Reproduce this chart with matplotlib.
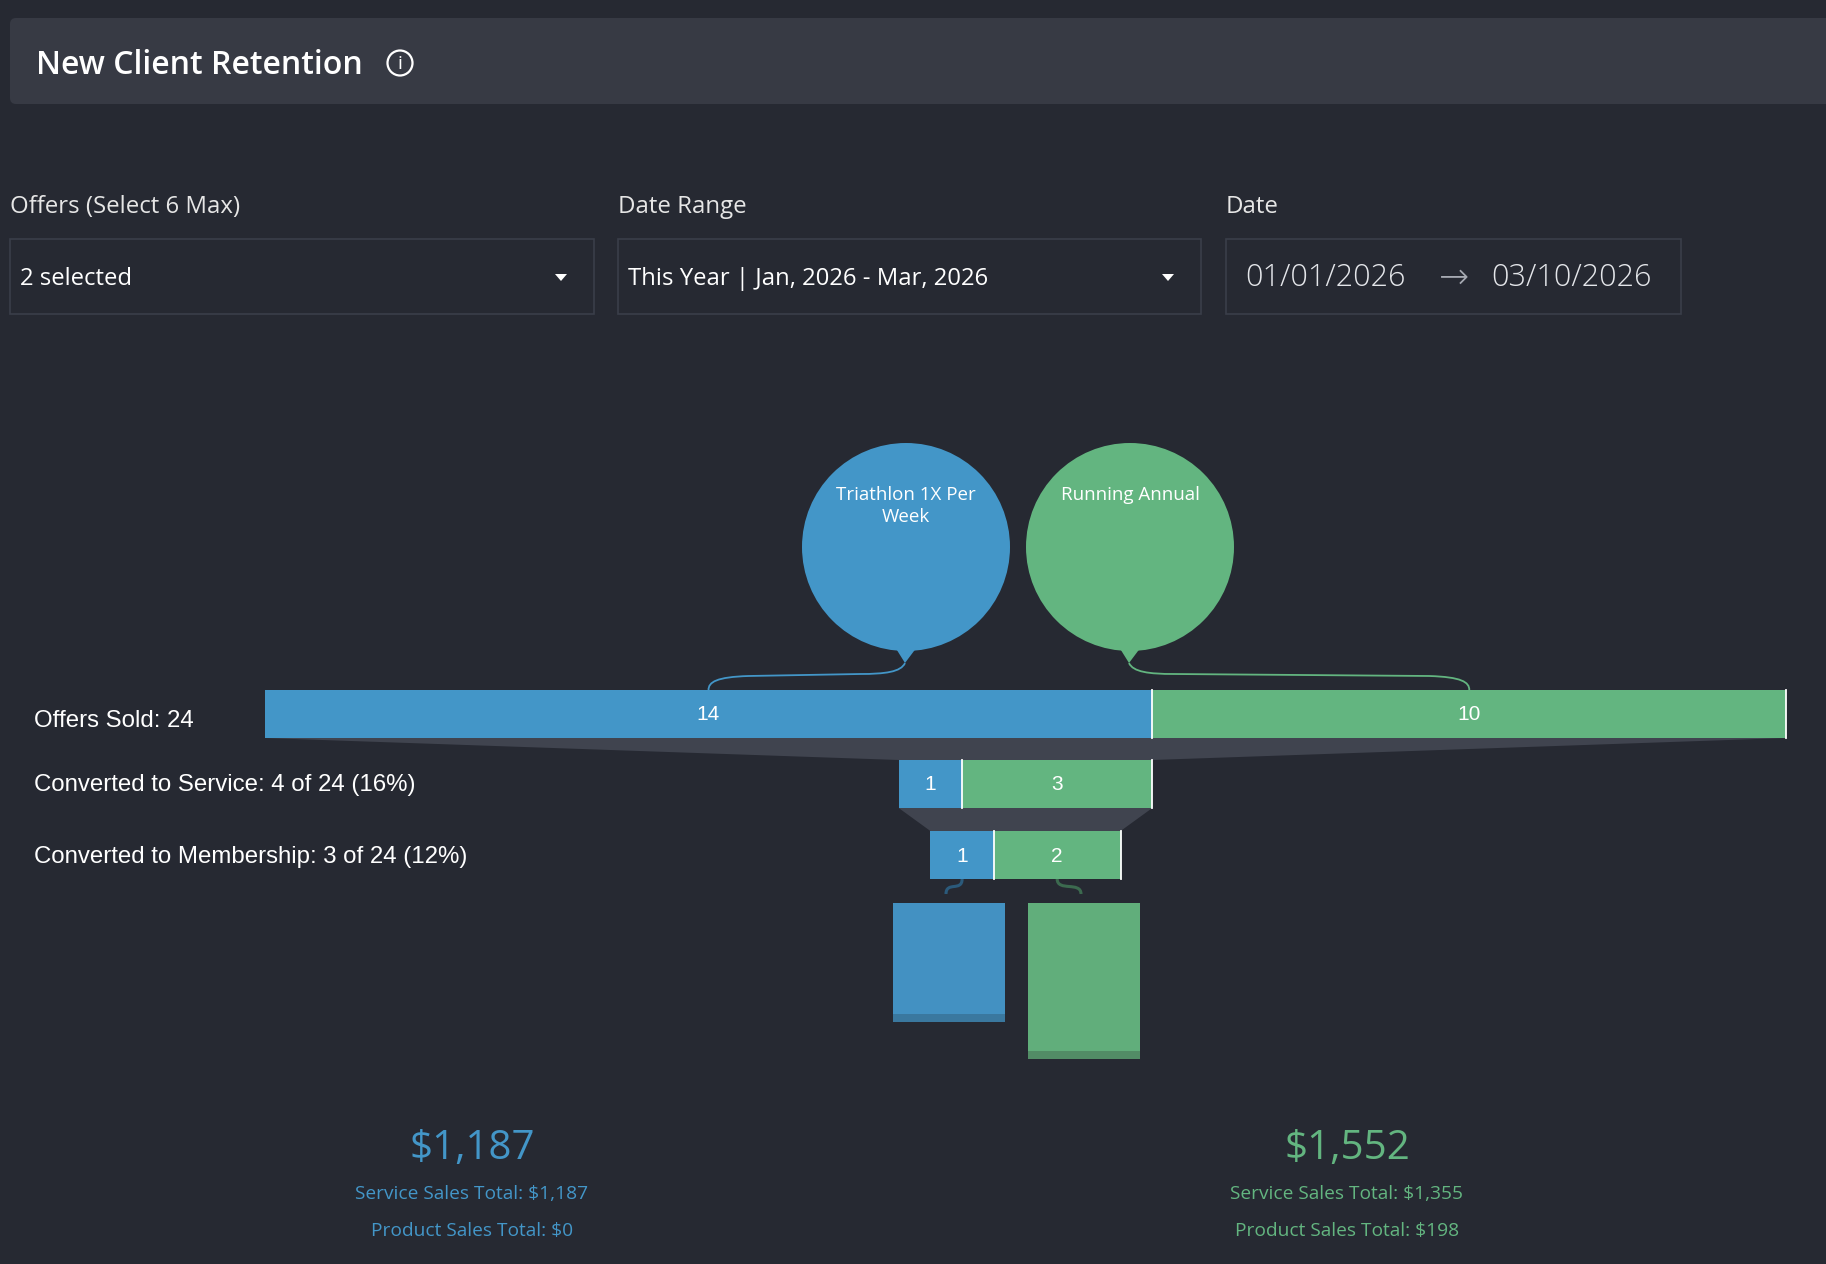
import numpy as np
import matplotlib
matplotlib.use('Agg')
import matplotlib.pyplot as plt
from matplotlib.patches import FancyBboxPatch, Rectangle, Circle, Polygon, PathPatch
from matplotlib.path import Path

# --- dati ---
offers = ["Triathlon 1X Per\nWeek", "Running Annual"]
offers_sold = [14, 10]
converted_service = [1, 3]
converted_membership = [1, 2]
sales_totals = [1187, 1552]
service_sales = [1187, 1355]
product_sales = [0, 198]
stage_names = ["Offers Sold", "Converted to Service", "Converted to Membership"]

filter_labels = ["Offers (Select 6 Max)", "Date Range", "Date"]
filter_values = ["2 selected", "This Year | Jan, 2026 - Mar, 2026"]
date_from = "01/01/2026"
date_to = "03/10/2026"

# colori
BG = '#262932'
PANEL = '#373a44'
BORDER = '#3a3e49'
FUNNEL = '#40444f'
colors = ['#4396c8', '#63b580']
box_colors = ['#4391c2', '#61ae7b']
band_colors = ['#3a789f', '#528c66']
link_colors = ['#2b5a7b', '#3c6a4f']

UI = ['Open Sans', 'DejaVu Sans']
ARIAL = ['Liberation Sans', 'DejaVu Sans']

fig = plt.figure(figsize=(18.26, 12.64), dpi=100)
fig.patch.set_facecolor(BG)
ax = fig.add_axes([0, 0, 1, 1])
ax.set_xlim(0, 1826)
ax.set_ylim(1264, 0)
ax.axis('off')
ax.set_facecolor(BG)

# header
ax.add_patch(FancyBboxPatch((10, 18), 1900, 86, boxstyle="round,pad=0,rounding_size=6",
                            fc=PANEL, ec='none'))
ax.text(36, 65, "New Client Retention", color='white', fontsize=23, fontweight='semibold',
        family=UI, va='center', ha='left')
ax.add_patch(Circle((400, 63), 12.5, fc='none', ec='white', lw=1.6))
ax.text(400, 64, "i", color='white', fontsize=14, family=UI, ha='center', va='center')

# filtri
box_x = [10, 618, 1226]
box_w = [584, 583, 455]
for i, lab in enumerate(filter_labels):
    ax.text(box_x[i], 207, lab, color='#e6e6e6', fontsize=17.3, family=UI, va='center')
    ax.add_patch(Rectangle((box_x[i], 239), box_w[i], 75, fc=BG, ec=BORDER, lw=1.2))
for i, val in enumerate(filter_values):
    ax.text(box_x[i] + 10, 279, val, color='white', fontsize=17.2, family=UI, va='center')
    ax_x = box_x[i] + box_w[i] - 33
    ax.add_patch(Polygon([[ax_x - 6, 274], [ax_x + 6, 274], [ax_x, 281]], fc='white', ec='none'))
ax.text(1245, 278, date_from, color='#e4e6ea', fontsize=22, fontweight='light', family=UI, va='center')
ax.text(1454, 278, "\u2192", color='#a6aab2', fontsize=26, fontweight='light', family=UI,
        va='center', ha='center')
ax.text(1491, 278, date_to, color='#e4e6ea', fontsize=22, fontweight='light', family=UI, va='center')

# funnel
cx = 1025.5
unit = 63.4
bar_h = 48
stage_y = [690, 760, 831]
label_y = [721, 785, 857]
stages = [offers_sold, converted_service, converted_membership]
edges = []
for s, vals in enumerate(stages):
    tot = sum(vals)
    left = cx - tot * unit / 2
    lefts = left + np.concatenate([[0], np.cumsum(vals)[:-1]]) * unit
    ax.barh([stage_y[s] + bar_h / 2] * len(vals), np.array(vals) * unit, left=lefts,
            height=bar_h, color=colors, edgecolor='none', zorder=3)
    for j, v in enumerate(vals):
        r = lefts[j] + v * unit
        ax.plot([r, r], [stage_y[s], stage_y[s] + bar_h], color='white', lw=1.3, zorder=4)
        ax.text(lefts[j] + v * unit / 2, stage_y[s] + bar_h / 2 + 1, str(v), color='white',
                fontsize=15, family=ARIAL, ha='center', va='center', zorder=5)
    edges.append((left, left + tot * unit, lefts))
    if s == 0:
        txt = f"{stage_names[s]}: {sum(offers_sold)}"
    else:
        txt = f"{stage_names[s]}: {tot} of {sum(offers_sold)} ({int(100 * tot / sum(offers_sold))}%)"
    ax.text(34, label_y[s], txt, color='white', fontsize=17.3, family=ARIAL, va='center', ha='left')

for s in range(2):
    l0, r0, _ = edges[s]
    l1, r1, _ = edges[s + 1]
    y0 = stage_y[s] + bar_h
    y1 = stage_y[s + 1]
    ax.add_patch(Polygon([[l0, y0], [r0, y0], [r1, y1], [l1, y1]], fc=FUNNEL, ec='none', zorder=2))

# palloncini
ball_cx = [906, 1130]
ball_cy = 547
ball_r = 104
_, _, top_lefts = edges[0]
for j, name in enumerate(offers):
    bx = ball_cx[j]
    ax.add_patch(Circle((bx, ball_cy), ball_r, fc=colors[j], ec='none', zorder=3))
    tip_y = ball_cy + ball_r + 12
    ax.add_patch(Polygon([[bx - 11, ball_cy + ball_r - 4], [bx + 11, ball_cy + ball_r - 4],
                          [bx - 1, tip_y]], fc=colors[j], ec='none', zorder=3))
    ax.text(bx, 486, name, color='white', fontsize=13.5, family=UI, ha='center', va='top',
            linespacing=1.25, zorder=5)
    # filo verso la barra
    tx = top_lefts[j] + offers_sold[j] * unit / 2
    x0, y0 = bx - 1, tip_y
    sgn = np.sign(tx - x0)
    verts = [(x0, y0), (x0 + 4 * sgn, y0 + 9), (x0 + 20 * sgn, y0 + 11), (x0 + 45 * sgn, y0 + 11),
             (tx - 40 * sgn, y0 + 13),
             (tx - 8 * sgn, y0 + 14), (tx, y0 + 19), (tx, stage_y[0])]
    codes = [Path.MOVETO, Path.CURVE4, Path.CURVE4, Path.CURVE4, Path.LINETO,
             Path.CURVE4, Path.CURVE4, Path.CURVE4]
    ax.add_patch(PathPatch(Path(verts, codes), fc='none', ec=colors[j], lw=1.3, zorder=2))

# riquadri vendite
_, _, mem_lefts = edges[2]
box_left = [893, 1028]
box_wid = 112
box_top = 903
px_per_dollar = 0.1003
for j in range(2):
    h = sales_totals[j] * px_per_dollar
    ax.bar(box_left[j] + box_wid / 2, h, bottom=box_top, width=box_wid, color=box_colors[j],
           edgecolor='none', zorder=3)
    ax.bar(box_left[j] + box_wid / 2, 8, bottom=box_top + h - 8, width=box_wid,
           color=band_colors[j], edgecolor='none', zorder=4)
    sx = mem_lefts[j] + converted_membership[j] * unit / 2
    ex = box_left[j] + box_wid / 2 - 3
    y0 = stage_y[2] + bar_h
    verts = [(sx, y0), (sx, y0 + 13), (ex, y0 + 2), (ex, y0 + 15)]
    ax.add_patch(PathPatch(Path(verts, [Path.MOVETO, Path.CURVE4, Path.CURVE4, Path.CURVE4]),
                           fc='none', ec=link_colors[j], lw=2.2, zorder=2))

# totali in basso
tot_x = [472, 1347]
for j in range(2):
    ax.text(tot_x[j], 1149, f"${sales_totals[j]:,}", color=colors[j], fontsize=29, family=UI,
            ha='center', va='center')
    ax.text(tot_x[j], 1194, f"Service Sales Total: ${service_sales[j]:,}", color=colors[j],
            fontsize=13.8, family=UI, ha='center', va='center')
    ax.text(tot_x[j], 1231, f"Product Sales Total: ${product_sales[j]:,}", color=colors[j],
            fontsize=13.8, family=UI, ha='center', va='center')

fig.savefig('out.png', dpi=100, facecolor=BG)
